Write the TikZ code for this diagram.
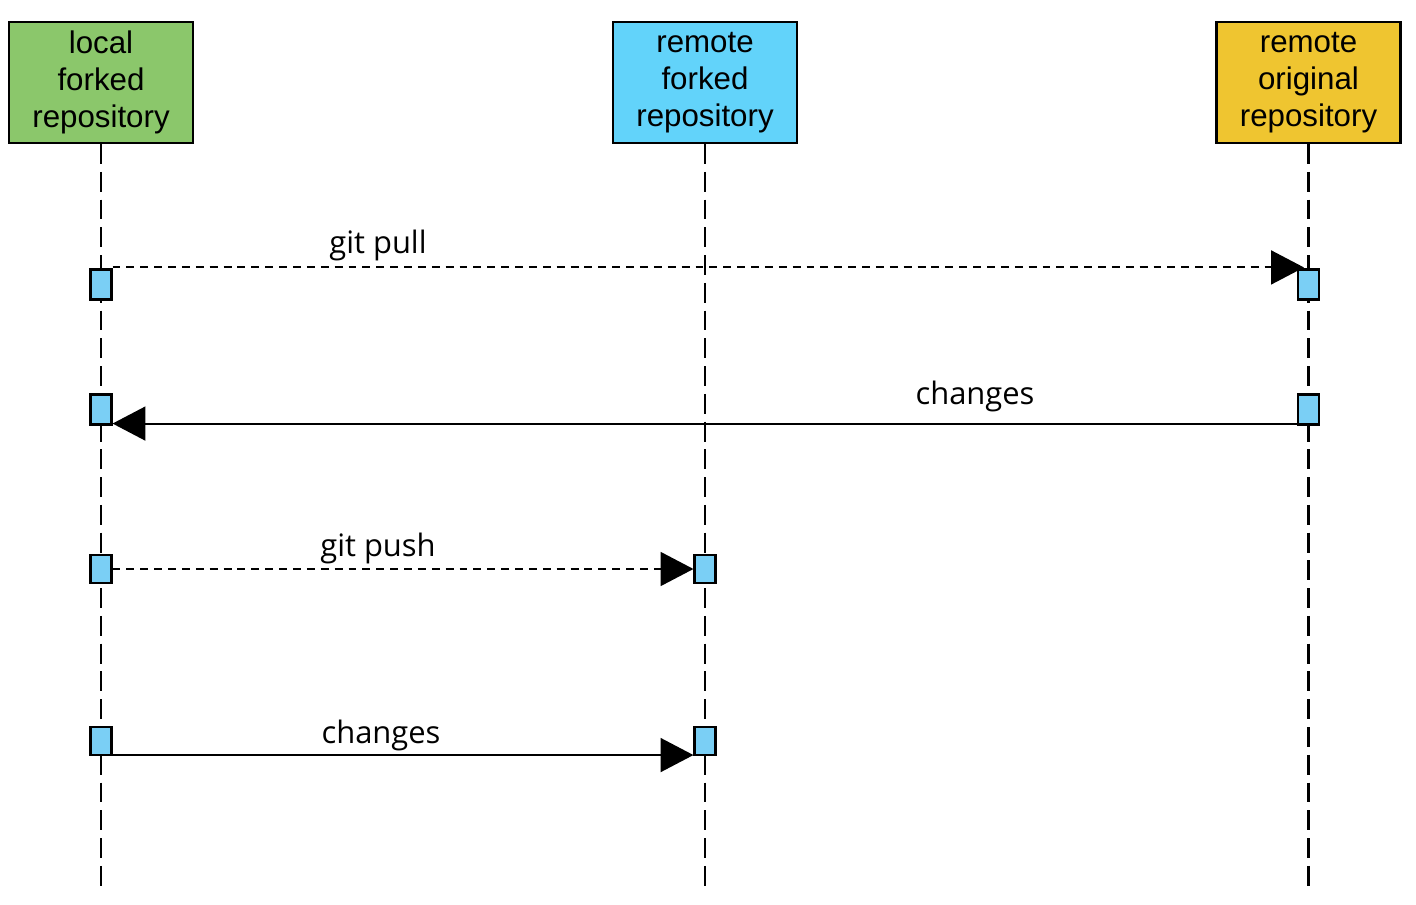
\documentclass[tikz,border=0pt]{standalone}
\usepackage{fontspec}
\setmainfont{Liberation Sans}
\newfontfamily\msgfont{Open Sans}
\usepackage{xcolor}
\usetikzlibrary{arrows.meta, positioning, calc}

\definecolor{localgreen}{HTML}{8BC76B}
\definecolor{forkcyan}{HTML}{62D3FA}
\definecolor{origyellow}{HTML}{EFC530}
\definecolor{actblue}{HTML}{7ACFF5}

\begin{document}
\begin{tikzpicture}[
        x=0.02cm, y=-0.02cm,
        headbox/.style={
            rectangle,
            draw=black,
            line width=1.2pt,
            minimum width=184*0.02cm,
            minimum height=121*0.02cm,
            align=center,
            inner sep=0pt,
            font=\fontsize{17.8}{21}\selectfont
        },
        actbox/.style={
            rectangle, draw=black, line width=1.2pt, fill=actblue,
            minimum width=21*0.02cm, minimum height=30*0.02cm, inner sep=0pt
        },
        lifeline/.style={line width=1.3pt, dash pattern=on 11.3pt off 4.5pt},
        msg/.style={line width=1.1pt, -{Triangle[length=18.7pt, width=19.3pt]}},
        callmsg/.style={msg, dash pattern=on 4.5pt off 3.4pt},
        msglabel/.style={font=\msgfont\fontsize{17.6}{20}\selectfont}
    ]
        \useasboundingbox (0,0) rectangle (1416,905);

        \node[headbox, fill=localgreen] (loc) at (101, 82.5) {local\\ forked\\ repository};
        \node[headbox, fill=forkcyan] (fork) at (705, 82.5) {remote\\ forked\\ repository};
        \node[headbox, fill=origyellow] (orig) at (1308.5, 82.5) {remote\\ original\\ repository};

        % lifelines
        \coordinate (locend) at (101, 887);
        \coordinate (forkend) at (705, 887);
        \coordinate (origend) at (1308.5, 887);
        \draw[lifeline] (loc.south) -- (locend);
        \draw[lifeline] (fork.south) -- (forkend);
        \draw[lifeline] (orig.south) -- (origend);

        % activations
        \node[actbox] (l1) at (101, 284.5) {};
        \node[actbox] (o1) at (1308.5, 284.5) {};
        \node[actbox] (l2) at (101, 409.5) {};
        \node[actbox] (o2) at (1308.5, 409.5) {};
        \node[actbox, minimum height=28*0.02cm] (l3) at (101, 569) {};
        \node[actbox, minimum height=28*0.02cm] (f3) at (705, 569) {};
        \node[actbox, minimum height=28*0.02cm] (l4) at (101, 741) {};
        \node[actbox, minimum height=28*0.02cm] (f4) at (705, 741) {};

        \draw[callmsg, shorten >=-7*0.02cm] ($(l1.north east)+(0,-1)$) -- ($(o1.north west)+(0,-1)$);
        \node[msglabel] (pull) at (378, 245) {git pull};

        \draw[msg] ($(o2.south west)+(0,-2)$) -- ($(l2.south east)+(0,-2)$);
        \node[msglabel] (chg1) at (975, 396) {changes};

        \draw[callmsg] (l3.east) -- (f3.west);
        \node[msglabel] (push) at (378, 548) {git push};

        \draw[msg] ($(l4.south east)+(0,-1)$) -- ($(f4.south west)+(0,-1)$);
        \node[msglabel] (chg2) at (381, 735) {changes};
    \end{tikzpicture}
\end{document}
